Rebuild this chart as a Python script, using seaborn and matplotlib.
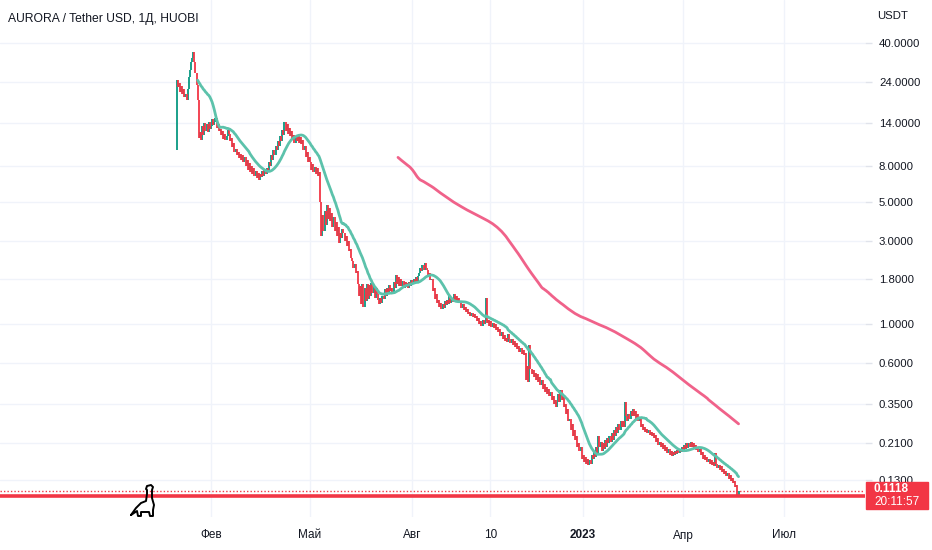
import pandas as pd
import matplotlib
matplotlib.use('Agg')
import matplotlib.pyplot as plt
import matplotlib.dates as mdates
from matplotlib.patches import Rectangle
from matplotlib.lines import Line2D
import seaborn as sns

# daily closes AURORA/USDT (one list per month)
jan22 = [24.5, 22.5, 23.8, 21.0, 22.8, 20.5, 21.8, 19.8, 20.5, 19.0, 22.0, 25.5, 28.0, 31.0, 33.0, 35.5,
         31.0, 27.0, 23.0, 19.0, 11.5, 12.5, 11.2, 13.5, 12.0, 14.0, 12.6, 13.8, 12.4, 14.2, 13.0]
feb22 = [13.5, 14.8, 13.6, 14.2, 15.0, 13.2, 13.8, 12.6, 13.0, 12.0, 12.6, 11.4, 12.2, 11.2, 11.8, 12.8,
         12.2, 11.0, 11.5, 10.2, 10.8, 9.6, 10.0, 9.2, 9.6, 8.8, 9.3, 8.6]
mar22 = [9.2, 8.4, 9.0, 8.0, 8.6, 7.6, 8.3, 7.4, 8.0, 7.2, 7.8, 7.0, 7.5, 6.8, 7.3, 6.6, 7.2, 6.9, 7.5, 7.0,
         7.6, 7.2, 7.8, 7.4, 8.4, 8.0, 9.2, 8.6, 9.8, 9.2, 10.4]
apr22 = [9.8, 11.0, 10.3, 11.8, 11.0, 12.8, 12.0, 14.2, 12.6, 13.8, 12.2, 13.2, 11.8, 12.6, 11.2, 12.0,
         10.8, 11.6, 11.0, 11.8, 10.8, 11.6, 10.6, 11.2, 9.8, 10.4, 9.0, 9.6, 8.4, 9.0]
may22 = [8.4, 7.6, 8.2, 7.4, 7.9, 7.2, 7.8, 7.0, 7.4, 5.0, 3.2, 4.2, 3.4, 4.4, 3.7, 4.8, 4.0, 4.6, 3.9, 4.3,
         3.6, 4.1, 3.4, 3.8, 3.2, 3.6, 2.9, 3.3, 3.1, 3.5, 3.3]
jun22 = [3.0, 3.2, 2.8, 3.0, 2.6, 2.7, 2.4, 2.3, 2.1, 2.2, 1.95, 2.0, 1.7, 1.45, 1.65, 1.3, 1.7, 1.25, 1.6,
         1.35, 1.7, 1.4, 1.68, 1.45, 1.72, 1.5, 1.65, 1.42, 1.6, 1.48]
jul22 = [1.38, 1.30, 1.42, 1.32, 1.45, 1.40, 1.58, 1.45, 1.62, 1.50, 1.68, 1.55, 1.62, 1.52, 1.75, 1.62,
         1.90, 1.70, 1.85, 1.65, 1.80, 1.66, 1.76, 1.62, 1.74, 1.64, 1.72, 1.60, 1.75, 1.66, 1.78]
aug22 = [1.70, 1.82, 1.72, 1.85, 1.75, 1.88, 1.95, 2.10, 2.00, 2.18, 2.05, 2.22, 2.10, 2.05, 1.85, 1.95,
         1.78, 1.82, 1.55, 1.62, 1.40, 1.48, 1.32, 1.38, 1.25, 1.32, 1.22, 1.30, 1.24, 1.35, 1.28]
sep22 = [1.38, 1.30, 1.45, 1.32, 1.42, 1.34, 1.48, 1.36, 1.44, 1.35, 1.42, 1.32, 1.36, 1.24, 1.30, 1.20,
         1.26, 1.18, 1.22, 1.14, 1.18, 1.12, 1.16, 1.10, 1.14, 1.08, 1.12, 1.04, 1.08, 1.00]
oct22 = [1.04, 0.98, 1.06, 1.00, 1.05, 1.42, 1.02, 1.06, 0.98, 1.04, 0.97, 1.02, 0.95, 1.00, 0.93, 0.97,
         0.90, 0.94, 0.86, 0.90, 0.83, 0.87, 0.80, 0.84, 0.79, 0.88, 0.82, 0.78, 0.83, 0.76, 0.80]
nov22 = [0.74, 0.78, 0.72, 0.75, 0.70, 0.73, 0.68, 0.71, 0.67, 0.69, 0.48, 0.58, 0.47, 0.76, 0.56, 0.52,
         0.55, 0.50, 0.53, 0.48, 0.52, 0.47, 0.50, 0.45, 0.48, 0.43, 0.46, 0.41, 0.44, 0.40]
dec22 = [0.43, 0.39, 0.41, 0.37, 0.39, 0.35, 0.37, 0.34, 0.36, 0.40, 0.36, 0.42, 0.37, 0.39, 0.34, 0.35,
         0.31, 0.33, 0.28, 0.29, 0.25, 0.27, 0.23, 0.25, 0.22, 0.23, 0.20, 0.21, 0.19, 0.20, 0.17]
jan23 = [0.18, 0.165, 0.175, 0.16, 0.17, 0.158, 0.168, 0.16, 0.18, 0.17, 0.19, 0.175, 0.20, 0.185, 0.23,
         0.20, 0.215, 0.19, 0.21, 0.195, 0.22, 0.20, 0.225, 0.21, 0.23, 0.215, 0.24, 0.22, 0.25, 0.23, 0.26]
feb23 = [0.24, 0.27, 0.25, 0.28, 0.26, 0.28, 0.26, 0.36, 0.30, 0.28, 0.31, 0.29, 0.32, 0.30, 0.33, 0.30,
         0.32, 0.29, 0.31, 0.28, 0.29, 0.26, 0.27, 0.25, 0.26, 0.245, 0.255, 0.24]
mar23 = [0.25, 0.235, 0.245, 0.23, 0.24, 0.225, 0.235, 0.215, 0.225, 0.205, 0.215, 0.20, 0.21, 0.195,
         0.205, 0.19, 0.20, 0.185, 0.195, 0.18, 0.19, 0.178, 0.188, 0.18, 0.19, 0.182, 0.192, 0.185, 0.195,
         0.188, 0.20]
apr23 = [0.19, 0.205, 0.195, 0.21, 0.198, 0.212, 0.20, 0.215, 0.20, 0.21, 0.195, 0.205, 0.192, 0.20, 0.188,
         0.195, 0.18, 0.188, 0.172, 0.18, 0.168, 0.176, 0.165, 0.172, 0.16, 0.168, 0.158, 0.165, 0.155, 0.185]
may23 = [0.16, 0.152, 0.158, 0.148, 0.155, 0.145, 0.15, 0.14, 0.146, 0.136, 0.142, 0.132, 0.138, 0.128,
         0.133, 0.124, 0.128, 0.118, 0.122, 0.105, 0.1118]

months = [('2022-01-01', jan22), ('2022-02-01', feb22), ('2022-03-01', mar22), ('2022-04-01', apr22),
          ('2022-05-01', may22), ('2022-06-01', jun22), ('2022-07-01', jul22), ('2022-08-01', aug22),
          ('2022-09-01', sep22), ('2022-10-01', oct22), ('2022-11-01', nov22), ('2022-12-01', dec22),
          ('2023-01-01', jan23), ('2023-02-01', feb23), ('2023-03-01', mar23), ('2023-04-01', apr23),
          ('2023-05-01', may23)]
first_open = 9.8
last_price = 0.1118
level_price = 0.105
countdown = '20:11:57'

y_ticks = [40, 24, 14, 8, 5, 3, 1.8, 1.0, 0.6, 0.35, 0.21, 0.13]
x_tick_dates = ['2022-02-01', '2022-05-01', '2022-08-01', '2022-10-10', '2023-01-01', '2023-04-01', '2023-07-01']
x_tick_labels = ['Фев', 'Май', 'Авг', '10', '2023', 'Апр', 'Июл']

UP = '#089981'
DOWN = '#f23645'
TXT = '#131722'
GRID = '#f0f3fa'

frames = [pd.DataFrame({'date': pd.date_range(start, periods=len(vals), freq='D'), 'close': vals})
          for start, vals in months]
df = pd.concat(frames, ignore_index=True)
df['open'] = df['close'].shift(1).fillna(first_open)
df['ma20'] = df['close'].rolling(20).mean()
df['ma200'] = df['close'].rolling(200).mean()

sns.set_theme(style='white')
plt.rcParams['font.family'] = ['Liberation Sans', 'DejaVu Sans']

fig = plt.figure(figsize=(9.32, 5.5), dpi=100)
ax = fig.add_axes([0, 33 / 550, 865 / 932, 517 / 550])

ax.set_yscale('log')
ax.set_ylim(0.0799, 70.3)
x0 = pd.Timestamp('2022-01-01')
ax.set_xlim(mdates.date2num(x0 - pd.Timedelta(days=158.6)), mdates.date2num(x0 + pd.Timedelta(days=618.6)))

for t in y_ticks:
    ax.axhline(t, color=GRID, lw=1, zorder=0)
for d in x_tick_dates:
    ax.axvline(mdates.date2num(pd.Timestamp(d)), color=GRID, lw=1, zorder=0)

up = df['close'] >= df['open']
ax.vlines(df.loc[up, 'date'], df.loc[up, 'open'], df.loc[up, 'close'], color=UP, lw=1.3, zorder=2)
ax.vlines(df.loc[~up, 'date'], df.loc[~up, 'open'], df.loc[~up, 'close'], color=DOWN, lw=1.3, zorder=2)

sns.lineplot(data=df, x='date', y='ma20', ax=ax, color='#5cc2ab', lw=2, zorder=3)
sns.lineplot(data=df, x='date', y='ma200', ax=ax, color='#f0628a', lw=2, zorder=3)

ax.axhline(last_price, color=DOWN, lw=1, ls=(0, (1, 1.5)), zorder=4)
ax.axhline(level_price, color=DOWN, lw=2.6, zorder=4)

ax.set_xlabel('')
ax.set_ylabel('')
ax.yaxis.tick_right()
ax.set_yticks(y_ticks)
ax.set_yticklabels([f'{t:.4f}' for t in y_ticks])
ax.yaxis.set_minor_locator(matplotlib.ticker.NullLocator())
ax.tick_params(axis='y', length=5, width=1, color='#e0e3eb', pad=5, labelsize=8.2, labelcolor=TXT)
ax.set_xticks([mdates.date2num(pd.Timestamp(d)) for d in x_tick_dates])
ax.set_xticklabels(x_tick_labels)
ax.tick_params(axis='x', length=0, pad=9, labelsize=8.5, labelcolor=TXT)
for lab in ax.get_xticklabels():
    if lab.get_text() == '2023':
        lab.set_fontweight('bold')
for s in ax.spines.values():
    s.set_visible(False)

ax.text(8 / 865, 1 - 19 / 517, 'AURORA / Tether USD, 1Д, HUOBI', transform=ax.transAxes,
        ha='left', va='center', fontsize=8.7, color=TXT)
fig.text(877 / 932, 1 - 16 / 550, 'USDT', ha='left', va='center', fontsize=8.2, color=TXT)

# last price badge on the price scale
fig.patches.append(Rectangle((866 / 932, (550 - 509) / 550), 62 / 932, 27 / 550,
                             transform=fig.transFigure, color=DOWN, zorder=5))
fig.text(874 / 932, 1 - 489 / 550, f'{last_price:.4f}', ha='left', va='center', fontsize=8.5,
         color='white', fontweight='bold', zorder=6)
fig.text(874 / 932, 1 - 502 / 550, countdown, ha='left', va='center', fontsize=8.5,
         color='white', zorder=6)

# small dino icon bottom-left (pixel outline)
dino = [(131, 515), (136, 508), (141, 503), (146, 501), (147, 494), (147, 490), (146, 489), (147, 486),
        (151, 485), (153, 487), (152, 490), (152, 498), (154, 505), (153, 510), (153, 516), (150, 516),
        (149, 512), (141, 512), (141, 516), (138, 516), (137, 511), (131, 515)]
fig.add_artist(Line2D([p[0] / 932 for p in dino], [1 - p[1] / 550 for p in dino],
                      transform=fig.transFigure, color='black', lw=1.4, solid_joinstyle='round', zorder=6))

fig.savefig('out.png', dpi=100)
